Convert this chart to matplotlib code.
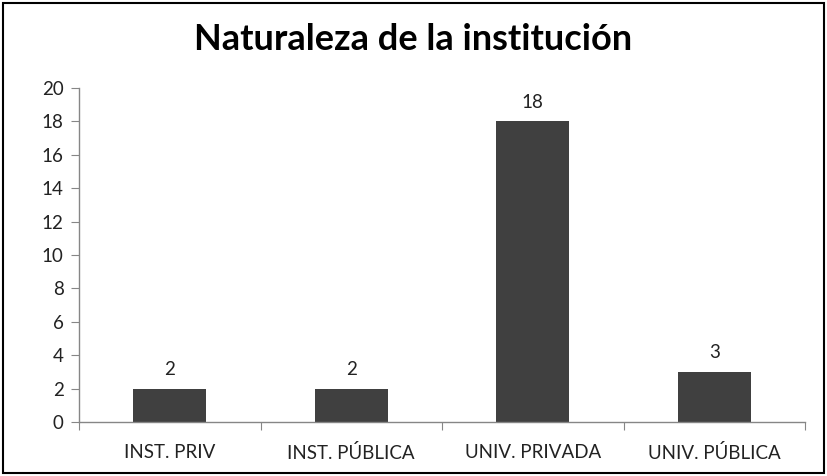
import numpy as np
import matplotlib.pyplot as plt
from matplotlib.patches import Rectangle

categories = ['INST. PRIV', 'INST. PÚBLICA', 'UNIV. PRIVADA', 'UNIV. PÚBLICA']
values = [2, 2, 18, 3]
yticks = [0, 2, 4, 6, 8, 10, 12, 14, 16, 18, 20]

plt.rcParams['font.family'] = ['Lato', 'DejaVu Sans']

fig = plt.figure(figsize=(8.27, 4.76), dpi=100)
ax = fig.add_axes([79/827, 1 - 422/476, (805 - 79)/827, (422 - 88)/476])

x = np.arange(len(categories))
ax.bar(x, values, width=0.4, color='#404040', zorder=2)
for xi, v in zip(x, values):
    ax.text(xi, v + 0.65, str(v), ha='center', va='bottom', fontsize=13.5, color='#222222')

ax.set_xlim(-0.5, len(categories) - 0.5)
ax.set_ylim(0, 20)
ax.set_yticks(yticks)
ax.set_yticklabels([str(t) for t in yticks], fontsize=13.5, color='#222222')

# category ticks sit between bars
ax.set_xticks(np.arange(len(categories) + 1) - 0.5)
ax.set_xticklabels([])
ax.set_xticks(x, minor=True)
ax.set_xticklabels(categories, minor=True, fontsize=13.5, color='#222222')
ax.tick_params(axis='x', which='minor', length=0, pad=16)
ax.tick_params(axis='x', which='major', length=6, color='#868686', direction='out')
ax.tick_params(axis='y', length=6, color='#868686', direction='out', pad=5)

for s in ['top', 'right']:
    ax.spines[s].set_visible(False)
for s in ['left', 'bottom']:
    ax.spines[s].set_color('#868686')
    ax.spines[s].set_linewidth(1)

fig.text(0.5, 1 - 39/476, 'Naturaleza de la institución', ha='center', va='center',
         fontsize=26, fontweight='bold', color='black')

fig.patches.append(Rectangle((0.004, 0.006), 0.992, 0.988, transform=fig.transFigure,
                             fill=False, edgecolor='black', linewidth=1.5))

fig.savefig('out.png', dpi=100)
